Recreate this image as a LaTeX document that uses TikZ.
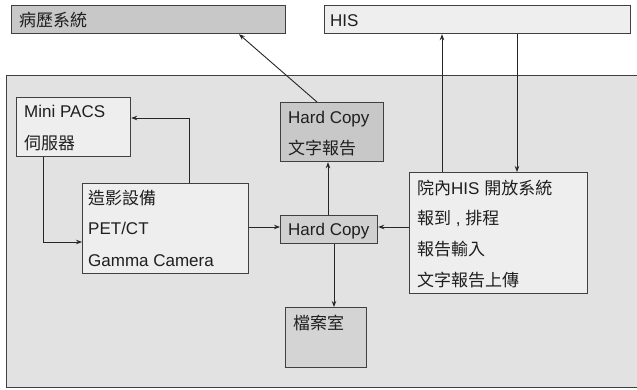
\documentclass[tikz,border=0pt]{standalone}
\usepackage{fontspec}
\setmainfont{Liberation Sans}
\newfontfamily\cjk{Noto Sans CJK TC}
\usetikzlibrary{arrows.meta}
\definecolor{bigbg}{HTML}{E2E2E2}
\definecolor{darkbox}{HTML}{C8C8C8}
\definecolor{midbox}{HTML}{D0D0D0}
\definecolor{archbox}{HTML}{D4D4D4}
\definecolor{lightbox}{HTML}{EEEEEE}
\definecolor{edgecol}{HTML}{404040}
\begin{document}
\begin{tikzpicture}[x=1pt,y=-1pt,
  boxstyle/.style={draw=edgecol, line width=1.2pt, inner sep=0pt, anchor=north west},
  lbl/.style={anchor=west, inner sep=0pt, text height=12.2pt, text depth=0pt, font=\fontsize{17}{20}\selectfont, text=black!88},
  conn/.style={draw=black!85, line width=0.9pt, -{Stealth[length=6pt,width=4.5pt]}}]
\useasboundingbox (0,0) rectangle (637,390);
% outer hospital area
\node[boxstyle, fill=bigbg, minimum width=660pt, minimum height=312pt] (hospital) at (6,75) {};
% top systems
\node[boxstyle, fill=darkbox, minimum width=274pt, minimum height=28pt] (emr) at (11,5) {};
\node[boxstyle, fill=lightbox, minimum width=306pt, minimum height=28pt] (his) at (324,5) {};
% inner boxes
\node[boxstyle, fill=lightbox, minimum width=114pt, minimum height=59pt] (minipacs) at (16,97) {};
\node[boxstyle, fill=lightbox, minimum width=166pt, minimum height=90pt] (modality) at (82,183) {};
\node[boxstyle, fill=darkbox, minimum width=103pt, minimum height=59pt] (hctext) at (280,102) {};
\node[boxstyle, fill=midbox, minimum width=97pt, minimum height=28pt] (hcsmall) at (280,215) {};
\node[boxstyle, fill=archbox, minimum width=81pt, minimum height=60pt] (archive) at (285,307) {};
\node[boxstyle, fill=lightbox, minimum width=178pt, minimum height=121pt] (hisin) at (409,172) {};
% labels
\node[lbl] (emrT) at (19,20) {\cjk 病歷系統};
\node[lbl] (hisT) at (330,20) {HIS};
\node[lbl] (mp1) at (24,111) {Mini PACS};
\node[lbl] (mp2) at (24,143) {\cjk 伺服器};
\node[lbl] (md1) at (88,198) {\cjk 造影設備};
\node[lbl] (md2) at (88,228) {PET/CT};
\node[lbl] (md3) at (88,260) {Gamma Camera};
\node[lbl] (ht1) at (288,117) {Hard Copy};
\node[lbl] (ht2) at (288,148) {\cjk 文字報告};
\node[lbl] (hs1) at (288,229) {Hard Copy};
\node[lbl] (ar1) at (293,323) {\cjk 檔案室};
\node[lbl] (hi1) at (417,188) {{\cjk 院內}HIS {\cjk 開放系統}};
\node[lbl] (hi2) at (417,218) {{\cjk 報到} , {\cjk 排程}};
\node[lbl] (hi3) at (417,249) {\cjk 報告輸入};
\node[lbl] (hi4) at (417,280) {\cjk 文字報告上傳};
% connectors
\draw[conn] ([xshift=37pt]hctext.north west) -- ([xshift=228pt]emr.south west);
\draw[conn] (modality.north -| 189,0) |- (minipacs.east |- 0,118);
\draw[conn] (minipacs.south -| 43,0) |- (modality.west |- 0,242);
\draw[conn] (modality.east |- 0,227) -- (hcsmall.west |- 0,227);
\draw[conn] (hcsmall.north -| 328,0) -- (hctext.south -| 328,0);
\draw[conn] (hcsmall.south -| 334,0) -- (archive.north -| 334,0);
\draw[conn] (hisin.west |- 0,227) -- (hcsmall.east |- 0,227);
\draw[conn] (hisin.north -| 442,0) -- (his.south -| 442,0);
\draw[conn] (his.south -| 517,0) -- (hisin.north -| 517,0);
\end{tikzpicture}
\end{document}
